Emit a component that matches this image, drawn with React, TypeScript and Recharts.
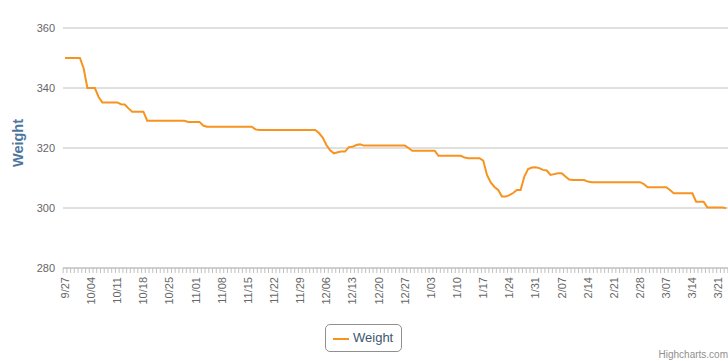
import React from 'react';
import { LineChart, Line, XAxis, YAxis, CartesianGrid, Legend, Label } from 'recharts';

const TICK_LABELS = ['9/27','10/04','10/11','10/18','10/25','11/01','11/08','11/15','11/22','11/29','12/06','12/13','12/20','12/27','1/03','1/10','1/17','1/24','1/31','2/07','2/14','2/21','2/28','3/07','3/14','3/21'];

const WEIGHTS = [
  350, 350, 350, 350, 350, 346.5, 340, 340, 340, 337,
  335.2, 335.2, 335.2, 335.2, 335.2, 334.6, 334.5, 333.2, 332.1, 332.1,
  332.1, 332.1, 329.1, 329.1, 329.1, 329.1, 329.1, 329.1, 329.1, 329.1,
  329.1, 329.1, 329.1, 328.7, 328.7, 328.7, 328.7, 327.5, 327.1, 327.1,
  327.1, 327.1, 327.1, 327.1, 327.1, 327.1, 327.1, 327.1, 327.1, 327.1,
  327.1, 326.2, 326, 326, 326, 326, 326, 326, 326, 326,
  326, 326, 326, 326, 326, 326, 326, 326, 325, 323.5,
  321, 319.2, 318.2, 318.6, 318.8, 318.8, 320.3, 320.4, 321, 321.2,
  320.8, 320.8, 320.8, 320.8, 320.8, 320.8, 320.8, 320.8, 320.8, 320.8,
  320.8, 320.8, 320, 319.1, 319.1, 319.1, 319.1, 319.1, 319.1, 319.1,
  317.4, 317.4, 317.4, 317.4, 317.4, 317.4, 317.4, 316.8, 316.6, 316.6,
  316.6, 316.6, 315.8, 311, 308.5, 307, 306, 303.8, 303.8, 304.3,
  305, 306, 306, 310.5, 313, 313.5, 313.6, 313.3, 312.7, 312.5,
  311, 311.3, 311.6, 311.6, 310.5, 309.5, 309.3, 309.3, 309.3, 309.3,
  308.8, 308.6, 308.6, 308.6, 308.6, 308.6, 308.6, 308.6, 308.6, 308.6,
  308.6, 308.6, 308.6, 308.6, 308.6, 308, 306.9, 306.9, 306.9, 306.9,
  306.9, 306.9, 306, 304.9, 304.9, 304.9, 304.9, 304.9, 304.9, 302.1,
  302.1, 302.1, 300.2, 300.2, 300.2, 300.2, 300.2, 299.9
];

const Y_TICKS = [280, 300, 320, 340, 360];

const data = WEIGHTS.map((w, i) => ({ day: i, weight: w }));

const FONT = '"Liberation Sans", Arial, sans-serif';
const LINE_COLOR = '#F7931E';
const PLOT_LEFT = 63;
const PAD = 2;
const WIDTH = 728;
const STEP = (WIDTH - PLOT_LEFT - 2 * PAD) / (WEIGHTS.length - 1);

const XTick = (props: any) => {
  const { x, y, index } = props;
  const tx = x - STEP / 2;
  const showLabel = index % 7 === 0 && TICK_LABELS[index / 7] !== undefined;
  const ly = y + 9;
  return (
    <g>
      <line x1={tx} y1={y} x2={tx} y2={y + 5} stroke="#C0C0C0" strokeWidth={1} />
      {index === WEIGHTS.length - 1 && (
        <line x1={x + STEP / 2} y1={y} x2={x + STEP / 2} y2={y + 5} stroke="#C0C0C0" strokeWidth={1} />
      )}
      {showLabel && (
        <text
          x={x}
          y={ly}
          dy="0.35em"
          transform={`rotate(-90 ${x} ${ly})`}
          textAnchor="end"
          fill="#666"
          fontSize={11}
          fontFamily={FONT}
        >
          {TICK_LABELS[index / 7]}
        </text>
      )}
    </g>
  );
};

const renderTitle = () => (
  <text
    x={22.5}
    y={143}
    transform="rotate(-90 22.5 143)"
    textAnchor="middle"
    fill="#4d759e"
    fontSize={14.5}
    fontWeight="bold"
    fontFamily={FONT}
  >
    Weight
  </text>
);

const renderLegend = () => (
  <div
    style={{
      position: 'relative',
      width: 77,
      height: 28,
      boxSizing: 'border-box',
      border: '1px solid #909090',
      borderRadius: 5,
      background: '#fff',
    }}
  >
    <svg width={20} height={6} style={{ position: 'absolute', left: 6, top: 11 }}>
      <line x1={1} y1={3} x2={17} y2={3} stroke={LINE_COLOR} strokeWidth={2} />
    </svg>
    <span
      style={{
        position: 'absolute',
        left: 27,
        top: 5,
        fontSize: 13,
        lineHeight: '15px',
        color: '#3E576F',
        fontFamily: FONT,
        whiteSpace: 'nowrap',
      }}
    >
      Weight
    </span>
  </div>
);

export default function App() {
  return (
    <div
      style={{
        position: 'absolute',
        left: 0,
        top: 0,
        width: WIDTH,
        height: 361,
        overflow: 'hidden',
        background: '#fff',
        fontFamily: FONT,
      }}
    >
      <LineChart
        width={WIDTH}
        height={361}
        data={data}
        margin={{ top: 28, right: 0, bottom: 0, left: 0 }}
      >
        <CartesianGrid vertical={false} stroke="#C0C0C0" />
        <XAxis
          dataKey="day"
          type="category"
          height={93}
          interval={0}
          padding={{ left: PAD, right: PAD }}
          tickLine={false}
          tickSize={0}
          tickMargin={0}
          axisLine={{ stroke: '#C0C0C0' }}
          tick={<XTick />}
        />
        <YAxis
          width={PLOT_LEFT}
          domain={[280, 360]}
          ticks={Y_TICKS}
          axisLine={false}
          tickLine={false}
          tick={{ fill: '#666', fontSize: 11, fontFamily: FONT }}
        >
          <Label content={renderTitle} />
        </YAxis>
        <Legend
          layout="horizontal"
          verticalAlign="middle"
          align="center"
          content={renderLegend}
          wrapperStyle={{ left: 325, top: 324, width: 77, height: 28 }}
        />
        <Line
          type="linear"
          dataKey="weight"
          stroke={LINE_COLOR}
          strokeWidth={2}
          dot={false}
          activeDot={false}
          isAnimationActive={false}
        />
      </LineChart>
      <div
        style={{
          position: 'absolute',
          left: 0,
          top: 350,
          width: WIDTH,
          textAlign: 'right',
          fontSize: 10,
          lineHeight: '10px',
          color: '#909090',
          fontFamily: FONT,
        }}
      >
        Highcharts.com
      </div>
    </div>
  );
}
